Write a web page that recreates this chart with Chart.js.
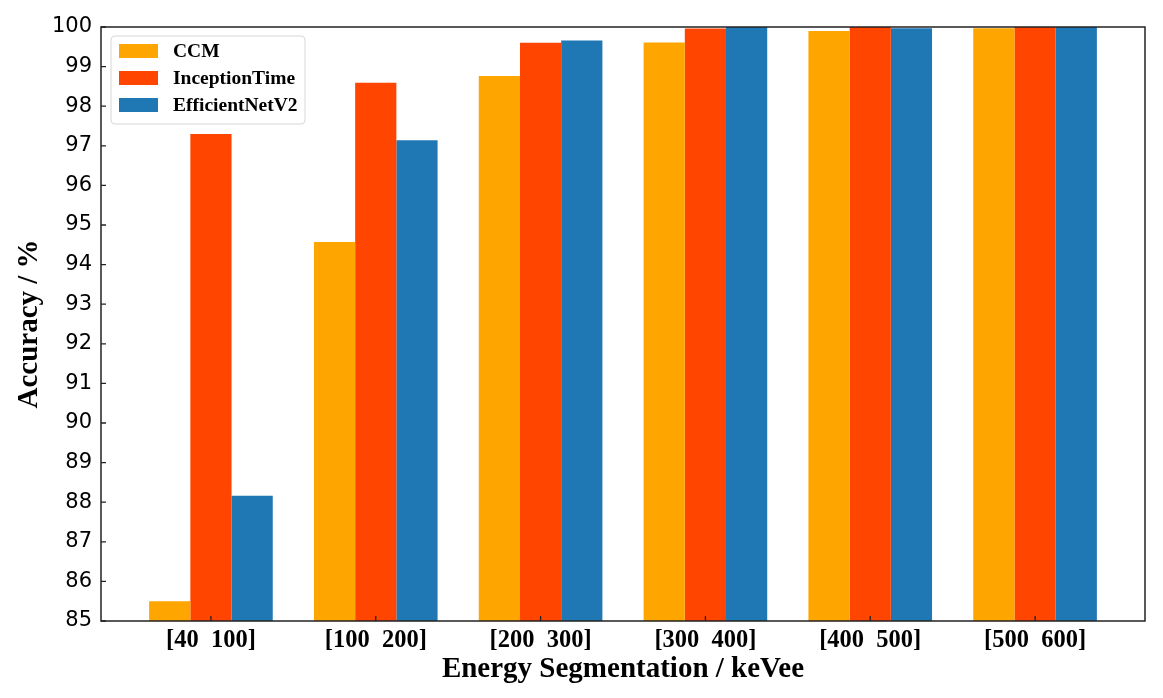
<!DOCTYPE html>
<html>
<head>
<meta charset="utf-8">
<script src="https://cdn.jsdelivr.net/npm/chart.js@4.4.1/dist/chart.umd.min.js"></script>
<style>
  html, body { margin: 0; padding: 0; background: #fff; }
  #wrap { width: 1163px; height: 698px; }
</style>
</head>
<body>
<div id="wrap"><canvas id="accChart" width="1163" height="698"></canvas></div>
<script>
// energy bins (keVee)
const categories = ['[40  100]', '[100  200]', '[200  300]', '[300  400]', '[400  500]', '[500  600]'];
const ccmAcc = [85.50, 94.57, 98.76, 99.61, 99.90, 99.97];
const inceptionAcc = [97.30, 98.59, 99.60, 99.96, 100.00, 100.00];
const effNetAcc = [88.16, 97.14, 99.66, 100.00, 99.97, 100.00];
const yTicks = [85, 86, 87, 88, 89, 90, 91, 92, 93, 94, 95, 96, 97, 98, 99, 100];

const serifBold = '"Liberation Serif", "Times New Roman", serif';

function toPoints(arr) {
    return arr.map((v, i) => ({ x: i, y: v }));
}

// frame, inward ticks and the legend box
const framePlugin = {
    id: 'frame',
    afterDraw(chart) {
        const { ctx, chartArea: a, scales } = chart;
        ctx.save();
        ctx.strokeStyle = '#222';
        ctx.lineWidth = 1.5;
        ctx.strokeRect(a.left, a.top, a.right - a.left, a.bottom - a.top);

        // inward ticks
        ctx.lineWidth = 1.3;
        ctx.beginPath();
        yTicks.forEach(t => {
            const y = scales.y.getPixelForValue(t);
            ctx.moveTo(a.left, y);
            ctx.lineTo(a.left + 5, y);
        });
        categories.forEach((c, i) => {
            const x = scales.x.getPixelForValue(i);
            ctx.moveTo(x, a.bottom);
            ctx.lineTo(x, a.bottom - 5);
        });
        ctx.stroke();

        // legend
        const lx = a.left + 10, ly = a.top + 9, lw = 194, lh = 88;
        ctx.fillStyle = 'rgba(255,255,255,0.85)';
        ctx.strokeStyle = '#d6d6d6';
        ctx.lineWidth = 1;
        ctx.beginPath();
        ctx.roundRect(lx, ly, lw, lh, 4);
        ctx.fill();
        ctx.stroke();

        ctx.font = 'bold 19.5px ' + serifBold;
        ctx.textBaseline = 'middle';
        chart.data.datasets.forEach((ds, i) => {
            const rowY = ly + 15 + i * 27;
            ctx.fillStyle = ds.backgroundColor;
            ctx.fillRect(lx + 8, rowY - 7, 39, 14);
            ctx.fillStyle = '#000';
            ctx.fillText(ds.label, lx + 62, rowY + 1);
        });
        ctx.restore();
    }
};

new Chart(document.getElementById('accChart'), {
    type: 'bar',
    data: {
        datasets: [{
            label: 'CCM',
            data: toPoints(ccmAcc),
            backgroundColor: '#FFA500'
        }, {
            label: 'InceptionTime',
            data: toPoints(inceptionAcc),
            backgroundColor: '#FF4500'
        }, {
            label: 'EfficientNetV2',
            data: toPoints(effNetAcc),
            backgroundColor: '#1F77B4'
        }]
    },
    options: {
        responsive: false,
        animation: false,
        devicePixelRatio: 1,
        layout: {
            padding: { top: 27, right: 18, left: 0, bottom: 0 }
        },
        plugins: {
            legend: { display: false },
            tooltip: { enabled: false }
        },
        datasets: {
            bar: {
                categoryPercentage: 0.75,
                barPercentage: 1.0
            }
        },
        scales: {
            x: {
                type: 'linear',
                min: -0.667,
                max: 5.667,
                offset: false,
                grid: { display: false, drawTicks: false },
                border: { display: false },
                afterBuildTicks: (scale) => {
                    scale.ticks = categories.map((c, i) => ({ value: i }));
                },
                afterFit: (scale) => { scale.height = 77; },
                ticks: {
                    autoSkip: false,
                    maxRotation: 0,
                    padding: 5,
                    color: '#000',
                    font: { family: serifBold, size: 24.5, weight: 'bold' },
                    callback: (v) => categories[v]
                },
                title: {
                    display: true,
                    text: 'Energy Segmentation / keVee',
                    color: '#000',
                    font: { family: serifBold, size: 29, weight: 'bold' },
                    padding: { top: 0, bottom: 11 }
                }
            },
            y: {
                min: 85,
                max: 100,
                grid: { display: false, drawTicks: false },
                border: { display: false },
                afterBuildTicks: (scale) => {
                    scale.ticks = yTicks.map(v => ({ value: v }));
                },
                afterFit: (scale) => { scale.width = 101; },
                ticks: {
                    padding: 9,
                    color: '#000',
                    font: { family: '"DejaVu Sans", sans-serif', size: 21 }
                },
                title: {
                    display: true,
                    text: 'Accuracy / %',
                    color: '#000',
                    font: { family: serifBold, size: 29, weight: 'bold' },
                    padding: { top: 12, bottom: 0 }
                }
            }
        }
    },
    plugins: [framePlugin]
});
</script>
</body>
</html>
